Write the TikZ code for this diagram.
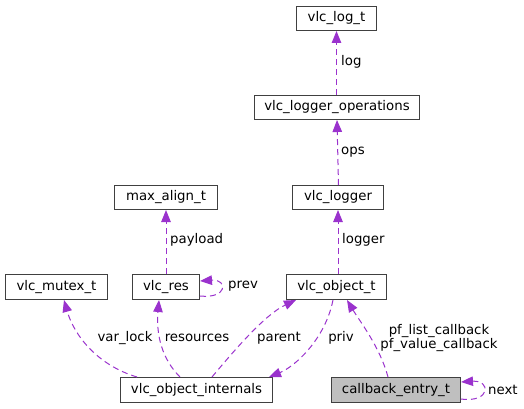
\documentclass[tikz,border=0pt]{standalone}
\usepackage{fontspec}
\setmainfont{DejaVu Sans}
\usetikzlibrary{arrows.meta}
\definecolor{edgecol}{HTML}{9A32CD}
\definecolor{boxgray}{HTML}{BFBFBF}
\tikzset{
  box/.style={draw=black!75, line width=1pt, fill=white, inner sep=0pt, minimum height=24pt, font=\fontsize{13.3}{16}\selectfont, anchor=north west},
  edge/.style={draw=edgecol, line width=1pt, dash pattern=on 6pt off 4pt, -{Triangle[length=12pt,width=9.5pt]}},
  lbl/.style={font=\fontsize{13.3}{14}\selectfont, inner sep=0pt, align=center}
}
\begin{document}
\begin{tikzpicture}[x=1pt,y=-1pt]
\useasboundingbox (0,0) rectangle (524,409);
\node[box, minimum width=80pt] (log) at (296,6) {vlc\_log\_t};
\node[box, minimum width=165pt] (ops) at (254,95) {vlc\_logger\_operations};
\node[box, minimum width=91pt] (logger) at (292,185) {vlc\_logger};
\node[box, minimum width=103pt] (max) at (114,185) {max\_align\_t};
\node[box, minimum width=100pt, minimum height=25pt] (obj) at (286,274) {vlc\_object\_t};
\node[box, minimum width=67pt, minimum height=25pt] (res) at (132,274) {vlc\_res};
\node[box, minimum width=102pt, minimum height=25pt] (mutex) at (5,274) {vlc\_mutex\_t};
\node[box, minimum width=152pt, minimum height=25pt] (int) at (120,377) {vlc\_object\_internals};
\node[box, minimum width=129pt, minimum height=25pt, fill=boxgray] (cb) at (331,377) {callback\_entry\_t};

\draw[edge] (ops.north -| log.south) -- (log.south);
\draw[edge] ([xshift=0.5pt]logger.north) -- (ops.south);
\draw[edge] (obj.north -| logger.south) -- (logger.south);
\draw[edge] (res.north -| max.south) -- (max.south);
\draw[edge] ([yshift=4pt]res.south east) .. controls +(28,3) and +(28,-2) .. ([yshift=-7pt]res.north east);
\draw[edge] ([xshift=17pt]int.north west) .. controls +(-40,-12) and +(10,35) .. ([xshift=-44pt]mutex.south east);
\draw[edge] ([xshift=60pt]int.north west) .. controls +(-18,-18) and +(-3,35) .. ([xshift=-41pt]res.south east);
\draw[edge] ([xshift=92pt]int.north west) .. controls +(25,-30) and +(-30,14) .. ([xshift=10pt]obj.south west);
\draw[edge] ([xshift=47pt]obj.south west) .. controls +(-8,40) and +(25,-10) .. ([xshift=-4pt]int.north east);
\draw[edge] ([xshift=57pt]cb.north west) .. controls +(-8,-30) and +(12,20) .. ([xshift=61pt]obj.south west);
\draw[edge] ([yshift=4pt]cb.south east) .. controls +(30,4) and +(30,-2) .. ([yshift=-5pt]cb.north east);

\node[lbl, anchor=west] (l1) at (341,62) {log};
\node[lbl, anchor=west] (l2) at (341,152) {ops};
\node[lbl, anchor=west] (l3) at (342,240) {logger};
\node[lbl, anchor=west] (l4) at (170,240) {payload};
\node[lbl, anchor=west] (l5) at (228,286) {prev};
\node[lbl] (l6) at (125,338) {var\_lock};
\node[lbl] (l7) at (197,338) {resources};
\node[lbl] (l8) at (279,338) {parent};
\node[lbl] (l9) at (341,338) {priv};
\node[lbl] (l10) at (439,338) {pf\_list\_callback\\pf\_value\_callback};
\node[lbl, anchor=west] (l11) at (488,390) {next};
\end{tikzpicture}
\end{document}
